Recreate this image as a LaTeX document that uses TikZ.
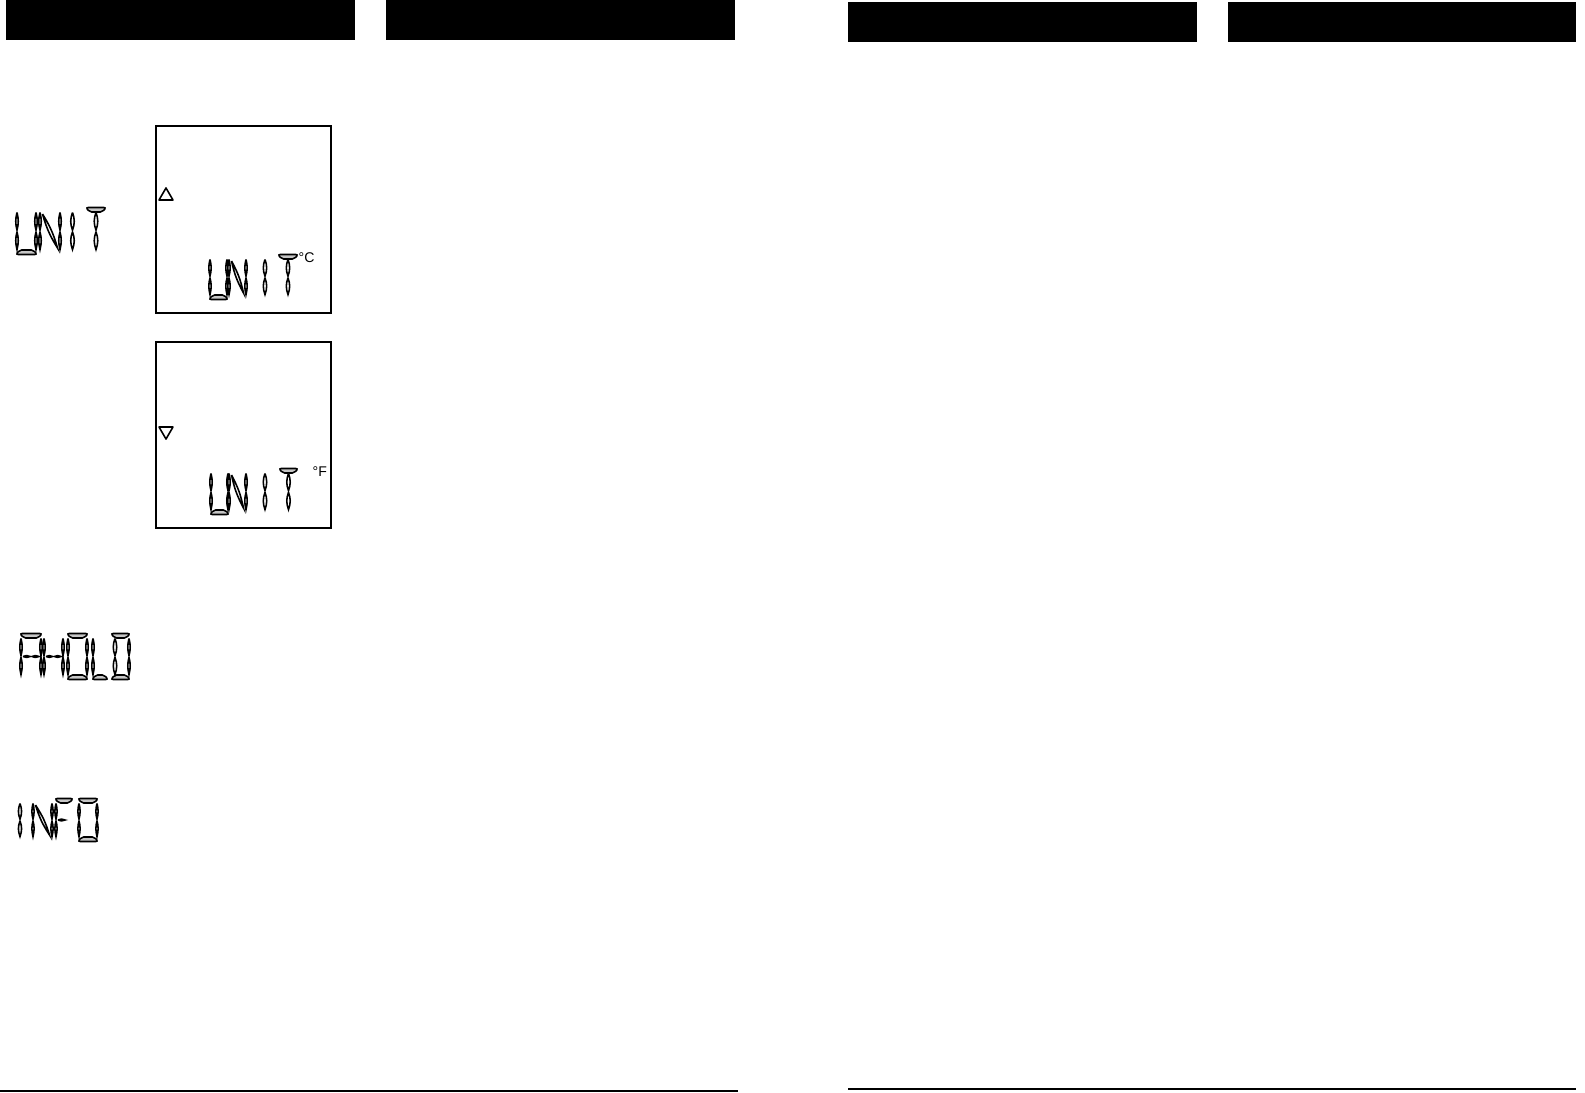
\documentclass[tikz,border=0pt]{standalone}
\usepackage{fontspec}
\setmainfont{Liberation Sans}
\tikzset{
  lcdseg/.style={draw=black, fill=white, line width=0.45pt},
  lcdbar/.style={draw=black, fill=gray!45, line width=0.45pt, rounded corners=0.6pt},
  lcdframe/.style={draw=black, line width=0.55pt},
  unitlabel/.style={anchor=north west, inner sep=0pt, font=\fontsize{4}{5}\selectfont},
}
\newcommand\lcdlens[3][14]{\draw[lcdseg] (#2) to[bend left=#1] (#3) to[bend left=#1] (#2);}
\newcommand\lcdcell[4]{\def\gL{#1}\def\gR{#2}\def\gT{#3}\def\gB{#4}%
  \pgfmathsetmacro\gM{(#3+#4)/2}\pgfmathsetmacro\gC{(#1+#2)/2}}
\newcommand\segleft{\lcdlens{\gL,\gT+1.5}{\gL,\gM-0.8}\lcdlens{\gL,\gM+0.8}{\gL,\gB-1.5}}
\newcommand\segright{\lcdlens{\gR,\gT+1.5}{\gR,\gM-0.8}\lcdlens{\gR,\gM+0.8}{\gR,\gB-1.5}}
\newcommand\segmid{\lcdlens[20]{\gC,\gT+1.5}{\gC,\gM-0.8}\lcdlens[20]{\gC,\gM+0.8}{\gC,\gB-1.5}}
\newcommand\segtop{\draw[lcdbar] (\gL-1,\gT-3.5) -- (\gR+1,\gT-3.5) -- (\gR-2.5,\gT+1) -- (\gL+2.5,\gT+1) -- cycle;}
\newcommand\segbot{\draw[lcdbar] (\gL-1,\gB+3.5) -- (\gR+1,\gB+3.5) -- (\gR-2.5,\gB-1) -- (\gL+2.5,\gB-1) -- cycle;}
\newcommand\segdash{\lcdlens[26]{\gL+2,\gM}{\gC-0.8,\gM}\lcdlens[26]{\gC+0.8,\gM}{\gR-2,\gM}}
\newcommand\segdashl{\lcdlens[26]{\gL+2,\gM}{\gC+1,\gM}}
\newcommand\segdiag{\lcdlens[8]{\gL+2.5,\gT+3}{\gR-2.5,\gB-3}}
\newcommand\glyphU{\segleft\segright\segbot}
\newcommand\glyphN{\segleft\segright\segdiag}
\newcommand\glyphI{\segmid}
\newcommand\glyphT{\segtop\segmid}
\newcommand\glyphA{\segtop\segleft\segright\segdash}
\newcommand\glyphH{\segleft\segright\segdash}
\newcommand\glyphO{\segtop\segbot\segleft\segright}
\newcommand\glyphL{\segleft\segbot}
\newcommand\glyphD{\segtop\segbot\segright\lcdlens[20]{\gL+3,\gT+1.5}{\gL+3,\gM-0.8}\lcdlens[20]{\gL+3,\gM+0.8}{\gL+3,\gB-1.5}}
\newcommand\glyphF{\segtop\segleft\segdashl}
\begin{document}
\begin{tikzpicture}[x=0.1mm, y=-0.1mm]
  \useasboundingbox (0,0) rectangle (1585,1093);
  \foreach \xa/\xb/\ya in {6/355/0, 386/735/0, 848/1197/2, 1228/1576/2} { \fill (\xa,\ya) rectangle (\xb,\ya+40); }
  \draw[line width=0.85pt] (0,1091) -- (738,1091);
  \draw[line width=0.55pt] (848,1089) -- (1576,1089);
  \draw[lcdframe] (156,126) rectangle (331,313);
  \draw[lcdframe] (156,342) rectangle (331,528);
  \draw[line width=0.45pt, line join=round] (159,200) -- (173,200) -- (166,188) -- cycle;
  \draw[line width=0.45pt, line join=round] (159,427) -- (173,427) -- (166,439) -- cycle;
  \foreach \xl/\xr/\ch in {17/36/U, 40/60/N, 69/76/I, 87/105/T} { \lcdcell{\xl}{\xr}{211}{251}\csname glyph\ch\endcsname }
  \foreach \xl/\xr/\ch in {210/227/U, 229/246/N, 262/268/I, 279/297/T} { \lcdcell{\xl}{\xr}{258}{296}\csname glyph\ch\endcsname }
  \foreach \xl/\xr/\ch in {211/228/U, 229/246/N, 262/268/I, 280/297/T} { \lcdcell{\xl}{\xr}{472}{511}\csname glyph\ch\endcsname }
  \foreach \xl/\xr/\ch in {21/41/A, 44/63/H, 68/87/O, 93/107/L, 112/129/D} { \lcdcell{\xl}{\xr}{637}{676}\csname glyph\ch\endcsname }
  \foreach \xl/\xr/\ch in {17/23/I, 33/52/N, 56/72/F, 79/97/O} { \lcdcell{\xl}{\xr}{802}{838}\csname glyph\ch\endcsname }
  \node[unitlabel] (degc) at (298,252) {°C};
  \node[unitlabel] (degf) at (312,466) {°F};
\end{tikzpicture}
\end{document}
